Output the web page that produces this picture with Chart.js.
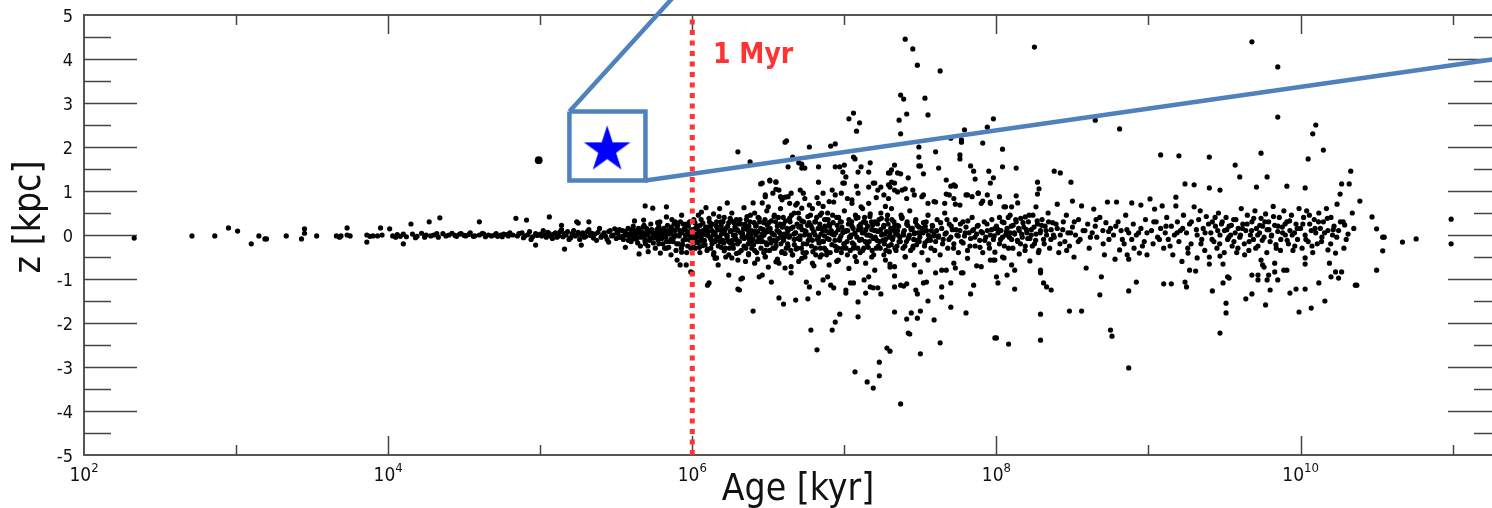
<!DOCTYPE html>
<html>
<head>
<meta charset="utf-8">
<script src="https://cdn.jsdelivr.net/npm/chart.js@4.4.0/dist/chart.umd.min.js"></script>
<style>
  html, body { margin: 0; padding: 0; background: #fff; overflow: hidden; width: 1492px; height: 508px; }
  #wrap { position: absolute; left: 0; top: 0; width: 1506px; height: 508px; }
</style>
</head>
<body>
<div id="wrap"><canvas id="chart"></canvas></div>
<script>
// Each entry is [log10(age / kyr), z in kpc].
const ages2to4 = [[2.33,-0.07],[2.71,-0.02],[2.86,-0.02],[2.95,0.16],[3.01,0.09],[3.1,-0.2],[3.15,-0.02],[3.19,-0.09],[3.2,-0.09],[3.33,-0.02],[3.43,-0.09],[3.45,0.14],[3.45,0.04],[3.53,-0.02],[3.66,-0.02],[3.68,-0.05],[3.69,-0.02],[3.73,0.16],[3.73,0.0],[3.75,-0.02],[3.86,0.0],[3.86,-0.16],[3.88,-0.03],[3.9,-0.02],[3.93,-0.02],[3.95,0.16],[3.96,0.0]];

const ages4to5 = [[4.01,0.14],[4.03,-0.02],[4.05,-0.05],[4.06,0.01],[4.08,-0.03],[4.1,0.02],[4.1,-0.2],[4.12,-0.04],[4.15,0.25],[4.16,0.02],[4.18,-0.06],[4.19,-0.03],[4.22,0.04],[4.24,-0.05],[4.25,0.0],[4.27,0.3],[4.28,-0.02],[4.3,0.0],[4.32,0.03],[4.33,-0.05],[4.34,0.39],[4.36,0.03],[4.38,-0.02],[4.4,0.0],[4.42,0.04],[4.44,-0.01],[4.45,-0.03],[4.47,0.02],[4.48,0.03],[4.5,-0.01],[4.51,-0.02],[4.53,0.01],[4.54,0.05],[4.56,-0.03],[4.57,-0.02],[4.6,0.3],[4.6,0.0],[4.62,0.04],[4.63,0.02],[4.64,-0.04],[4.66,0.0],[4.68,-0.02],[4.7,0.0],[4.71,0.03],[4.72,-0.03],[4.74,0.0],[4.75,-0.04],[4.76,0.02],[4.78,0.01],[4.79,-0.02],[4.8,0.05],[4.82,0.0],[4.84,0.38],[4.85,-0.02],[4.86,0.03],[4.88,0.05],[4.89,-0.06],[4.9,-0.02],[4.91,0.34],[4.92,0.01],[4.93,0.08],[4.94,-0.1],[4.95,-0.04],[4.97,-0.23],[4.97,0.03],[4.98,-0.01],[5.0,0.02]];

const ages5to6 = [[5.01,-0.02],[5.02,0.1],[5.03,0.0],[5.04,-0.05],[5.05,0.06],[5.06,0.03],[5.06,0.41],[5.07,-0.03],[5.08,-0.08],[5.09,0.02],[5.1,0.05],[5.11,-0.05],[5.12,-0.02],[5.13,0.07],[5.14,0.12],[5.14,0.22],[5.15,-0.04],[5.16,-0.32],[5.16,0.03],[5.17,0.0],[5.18,0.08],[5.19,-0.1],[5.2,-0.06],[5.21,0.03],[5.22,0.1],[5.23,-0.02],[5.24,0.3],[5.24,0.0],[5.25,0.27],[5.25,0.06],[5.26,-0.1],[5.27,-0.23],[5.27,0.01],[5.28,0.05],[5.29,-0.05],[5.3,-0.03],[5.31,0.08],[5.32,0.12],[5.32,0.3],[5.33,-0.01],[5.34,0.04],[5.35,-0.07],[5.36,0.02],[5.37,-0.12],[5.38,0.06],[5.39,0.15],[5.4,-0.05],[5.41,0.0],[5.42,0.05],[5.43,-0.03],[5.44,-0.1],[5.45,-0.16],[5.45,0.08],[5.46,0.1],[5.47,-0.02],[5.48,0.0],[5.49,0.14],[5.5,-0.08],[5.51,0.04],[5.52,0.12],[5.53,-0.05],[5.54,-0.03],[5.55,0.09],[5.56,0.06],[5.56,-0.28],[5.57,0.0],[5.58,-0.12],[5.59,0.03],[5.6,0.02],[5.61,-0.08],[5.62,0.32],[5.62,0.1],[5.63,-0.02],[5.64,0.05],[5.65,0.1],[5.65,-0.43],[5.66,-0.05],[5.67,0.07],[5.68,0.0],[5.68,0.34],[5.69,0.66],[5.69,-0.15],[5.7,0.15],[5.71,-0.38],[5.71,0.02],[5.72,-0.12],[5.73,0.08],[5.74,0.05],[5.74,0.61],[5.75,-0.06],[5.76,-0.02],[5.77,0.12],[5.78,0.2],[5.78,-0.2],[5.79,-0.41],[5.79,0.04],[5.8,-0.08],[5.81,0.08],[5.82,-0.03],[5.83,-0.15],[5.83,0.41],[5.83,0.64],[5.83,-0.3],[5.84,0.1],[5.85,0.02],[5.86,-0.45],[5.86,-0.1],[5.87,0.12],[5.88,-0.05],[5.88,0.25],[5.89,0.0],[5.9,0.18],[5.9,-0.57],[5.91,-0.2],[5.92,-0.68],[5.92,0.07],[5.93,0.05],[5.93,0.45],[5.93,-0.39],[5.94,-0.12],[5.95,-0.1],[5.95,0.15],[5.96,0.25],[5.96,-0.68],[5.97,-0.25],[5.97,0.08],[5.98,0.0],[5.99,-0.05],[5.99,-0.84],[5.99,0.3]];

const core5 = [[5.605,0.12],[5.618,-0.06],[5.627,0.02],[5.641,-0.18],[5.652,0.08],[5.664,-0.02],[5.676,0.18],[5.688,-0.1],[5.697,0.05],[5.708,-0.25],[5.716,0.1],[5.727,0.25],[5.739,-0.05],[5.748,0.0],[5.757,-0.3],[5.768,0.12],[5.776,-0.12],[5.787,0.3],[5.796,0.02],[5.806,-0.2],[5.814,0.15],[5.826,-0.05],[5.837,0.22],[5.845,-0.28],[5.856,0.05],[5.866,0.35],[5.874,-0.15],[5.884,0.1],[5.893,-0.35],[5.904,0.22],[5.914,-0.02],[5.922,0.3],[5.936,-0.22],[5.944,0.12],[5.955,0.0],[5.963,-0.4],[5.974,0.2],[5.986,-0.12],[5.994,0.1],
  [5.505,0.05],[5.522,-0.05],[5.538,0.1],[5.547,-0.1],[5.563,0.0],[5.578,0.15],[5.586,-0.05],[5.598,-0.15],[5.612,0.2],[5.633,-0.1],[5.646,0.15],[5.659,-0.25],[5.671,0.05],[5.683,0.22],[5.692,-0.2],[5.703,0.0],[5.721,-0.08],[5.733,0.12],[5.744,-0.18],[5.762,0.02],[5.772,0.28],[5.782,-0.05],[5.802,0.12],[5.818,-0.3],[5.832,0.05],[5.851,-0.15],[5.861,0.18],[5.878,-0.02],[5.889,0.3],[5.898,-0.2],[5.918,0.1],[5.928,-0.3],[5.941,0.25],[5.958,-0.1],[5.968,0.05],[5.982,0.3],[5.991,-0.3]];

const ages6to7 = [[6.0,-0.86],[6.0,0.12],[6.01,-0.1],[6.01,0.35],[6.02,0.02],[6.02,-0.3],[6.03,0.2],[6.03,-0.05],[6.04,0.45],[6.04,-0.18],[6.05,0.08],[6.05,-0.4],[6.06,0.52],[6.06,-0.02],[6.07,0.27],[6.07,-0.24],[6.08,0.05],[6.08,-0.12],[6.09,0.62],[6.09,0.15],[6.1,-1.14],[6.1,-0.32],[6.1,0.0],[6.11,-1.09],[6.11,0.38],[6.12,-0.08],[6.12,0.2],[6.13,-0.2],[6.13,0.1],[6.14,0.48],[6.14,-0.45],[6.15,0.02],[6.15,-0.15],[6.16,-0.52],[6.16,0.3],[6.17,-0.68],[6.17,0.12],[6.18,-0.05],[6.18,0.6],[6.19,-0.28],[6.19,0.22],[6.2,0.05],[6.2,-0.12],[6.21,0.4],[6.21,-0.36],[6.22,-0.5],[6.22,0.15],[6.23,0.73],[6.23,-0.02],[6.24,-0.91],[6.24,0.28],[6.25,-0.18],[6.25,0.08],[6.26,-0.52],[6.26,0.5],[6.27,0.0],[6.27,-0.3],[6.28,0.18],[6.28,-0.08],[6.29,0.35],[6.29,-0.42],[6.3,1.89],[6.3,-1.23],[6.3,0.1],[6.31,-1.25],[6.31,-0.15],[6.32,-1.0],[6.32,0.25],[6.33,-0.98],[6.33,0.05],[6.34,-0.25],[6.34,0.62],[6.35,0.15],[6.35,-0.6],[6.36,-0.05],[6.36,0.42],[6.37,-0.45],[6.37,0.02],[6.38,1.66],[6.38,0.3],[6.39,-0.2],[6.39,0.1],[6.4,0.73],[6.4,-1.73],[6.4,-0.1],[6.41,0.5],[6.41,-0.35],[6.42,0.0],[6.42,0.22],[6.43,-0.55],[6.43,0.08],[6.44,-0.95],[6.44,0.38],[6.45,-0.15],[6.45,0.15],[6.46,1.18],[6.46,0.73],[6.46,-0.91],[6.46,-0.03],[6.47,0.28],[6.47,-0.4],[6.48,0.91],[6.48,-0.5],[6.48,0.05],[6.49,0.55],[6.49,-0.22],
  [6.5,0.64],[6.5,-0.73],[6.5,0.12],[6.51,1.25],[6.51,-0.08],[6.52,-1.07],[6.52,0.32],[6.53,0.95],[6.53,-0.3],[6.54,0.0],[6.54,0.45],[6.55,1.2],[6.55,-0.15],[6.56,0.2],[6.56,-0.55],[6.57,1.02],[6.57,-0.64],[6.57,-1.43],[6.57,0.08],[6.58,0.6],[6.58,-0.05],[6.59,0.8],[6.59,-0.38],[6.6,-1.57],[6.6,0.25],[6.6,-0.12],[6.61,0.86],[6.61,-0.75],[6.61,2.11],[6.62,2.14],[6.62,0.03],[6.63,1.55],[6.63,-0.25],[6.64,0.38],[6.64,-0.02],[6.65,-0.86],[6.65,0.15],[6.66,1.77],[6.66,-0.45],[6.67,0.5],[6.67,-0.1],[6.68,-1.48],[6.68,0.05],[6.69,0.72],[6.69,-0.3],[6.7,1.64],[6.7,0.18],[6.7,-0.6],[6.71,-0.02],[6.72,1.52],[6.72,0.32],[6.72,1.61],[6.73,-0.2],[6.73,0.95],[6.74,1.52],[6.74,0.1],[6.75,-1.07],[6.75,-0.4],[6.76,-1.45],[6.76,0.42],[6.77,2.0],[6.77,-1.18],[6.77,0.0],[6.78,-2.16],[6.78,0.22],[6.79,-0.12],[6.79,0.6],[6.8,-0.7],[6.8,0.08],[6.81,0.3],[6.81,-0.3],[6.82,-2.61],[6.82,0.85],[6.83,1.55],[6.83,-1.32],[6.83,1.2],[6.83,-0.05],[6.84,0.45],[6.84,-0.5],[6.85,0.15],[6.85,-0.15],[6.86,-1.02],[6.86,0.65],[6.87,-0.02],[6.87,0.35],[6.88,-0.35],[6.88,0.1],[6.89,-0.95],[6.89,0.5],[6.9,-0.1],[6.9,0.25],[6.91,2.02],[6.91,-1.14],[6.92,-2.16],[6.92,0.02],[6.93,-1.2],[6.93,0.75],[6.94,2.07],[6.94,1.55],[6.94,-1.98],[6.94,-0.25],[6.95,0.4],[6.95,-0.6],[6.96,0.12],[6.97,1.55],[6.97,-1.8],[6.97,-0.08],[6.98,0.3],[6.98,-0.4],[6.99,1.43],[6.99,1.18],[6.99,0.05]];

const core6 = [[6.004,0.05],[6.013,-0.08],[6.021,0.15],[6.032,-0.15],[6.038,0.02],[6.052,0.22],[6.061,-0.1],[6.07,0.1],[6.084,-0.22],[6.093,0.0],[6.101,0.18],[6.116,-0.05],[6.122,-0.3],[6.131,0.25],[6.148,0.05],[6.152,-0.12],[6.167,0.12],[6.171,-0.25],[6.188,0.3],[6.192,0.02],[6.206,-0.18],[6.211,0.08],[6.229,-0.08],[6.233,0.2],[6.244,-0.3],[6.258,0.32],[6.262,-0.12],[6.279,0.12],[6.283,0.0],[6.298,-0.2],[6.303,0.25],[6.318,0.05],[6.322,-0.35],[6.337,0.15],[6.341,-0.08],[6.356,0.35],[6.368,-0.2],[6.372,0.2],[6.386,-0.02],[6.391,-0.3],[6.407,0.28],[6.412,0.08],[6.428,-0.15],[6.433,0.4],[6.449,-0.05],[6.452,-0.3],[6.468,0.12],[6.471,0.0],[6.487,-0.18],[6.493,0.22],[6.508,-0.35],[6.512,0.15],[6.527,0.02],[6.533,-0.12],[6.548,0.3],[6.551,-0.25],[6.566,0.4],[6.574,0.05],[6.588,-0.4],[6.592,0.18],[6.606,-0.05],[6.613,0.32],[6.627,-0.2],[6.631,0.1],[6.648,-0.35],[6.652,0.45],[6.668,0.02],[6.671,-0.22],[6.689,0.25],[6.694,-0.08],[6.703,0.38],[6.717,-0.3],[6.722,0.12],[6.738,0.0],[6.741,-0.5],[6.758,0.22],[6.763,-0.12],[6.777,0.45],[6.784,-0.25],[6.799,0.05],[6.806,0.3],[6.812,-0.45],[6.828,0.15],[6.833,-0.18],[6.847,0.02],[6.851,0.5],[6.869,-0.3],[6.872,0.2],[6.888,-0.08],[6.893,0.35],[6.907,-0.4],[6.914,0.1],[6.926,0.28],[6.938,-0.12],[6.943,0.05],[6.958,-0.3],[6.962,0.4],[6.977,-0.02],[6.984,0.18],[6.997,-0.2]];

const core6b = [[6.008,-0.2],[6.017,0.28],[6.026,-0.02],[6.042,0.1],[6.047,-0.28],[6.058,0.35],[6.066,0.05],[6.074,-0.15],[6.088,0.18],[6.097,-0.35],[6.106,0.08],[6.113,0.3],[6.127,-0.12],[6.136,0.0],[6.142,-0.4],[6.158,0.2],[6.163,-0.05],[6.176,0.42],[6.183,-0.15],[6.197,0.12],[6.202,0.3],[6.218,-0.3],[6.224,0.0],[6.238,-0.15],[6.249,0.38],[6.253,0.1],[6.268,-0.22],[6.274,0.28],[6.289,-0.1],[6.294,0.12],[6.308,-0.4],[6.314,0.35],[6.327,-0.05],[6.332,0.0],[6.347,0.25],[6.352,-0.3],[6.363,0.12],[6.377,-0.12],[6.382,0.45],[6.398,0.05],[6.403,-0.22],[6.417,0.2],[6.424,-0.4],[6.438,-0.08],[6.443,0.3],[6.458,0.02],[6.463,-0.15],[6.478,0.35],[6.482,-0.35],[6.497,0.08],[6.503,0.28],[6.518,-0.18],[6.523,0.05],[6.538,0.42],[6.543,-0.3],[6.557,0.1],[6.562,-0.08],[6.578,0.25],[6.583,-0.2],[6.598,0.4],[6.603,0.02],[6.618,-0.3],[6.622,0.15],[6.637,-0.05],[6.643,0.3],[6.658,-0.45],[6.663,0.18],[6.678,0.05],[6.683,-0.32],[6.698,0.5],[6.708,-0.1],[6.713,0.2],[6.728,-0.4],[6.733,0.3],[6.748,0.08],[6.753,-0.2],[6.768,0.28],[6.773,-0.05],[6.788,0.15],[6.793,-0.38],[6.808,0.0],[6.818,0.4],[6.823,-0.1],[6.838,0.25],[6.843,-0.3],[6.858,0.1],[6.863,-0.15],[6.878,0.35],[6.883,-0.45],[6.898,0.05],[6.903,0.2],[6.918,-0.22],[6.923,0.45],[6.933,0.0],[6.948,-0.35],[6.953,0.22],[6.968,-0.12],[6.973,0.3],[6.988,-0.3],[6.993,0.08]];

// looser halo around the band between 10^6 and 10^8 kyr
const halo6to8 = [[6.45,1.16],[6.51,1.23],[6.55,1.21],[6.48,0.87],[6.55,1.04],[6.58,0.87],[6.63,0.87],[6.65,0.95],[6.71,1.02],[6.74,0.83],[6.64,0.72],[6.68,0.68],[6.72,0.61],[6.77,0.68],[6.83,0.72],[6.86,0.95],[6.92,1.02],[6.94,0.91],[6.9,0.76],[6.98,0.95],[7.02,0.83],[7.05,0.8],[7.09,0.95],[7.11,0.64],[7.16,0.72],[7.26,0.91],[7.29,0.83],[7.33,1.02],[7.38,1.02],[7.41,0.83],[7.46,0.91],[7.51,0.87],[7.55,0.72],[7.59,0.76],[7.66,0.72],[7.69,0.91],[7.72,0.83],[7.8,0.91],[7.84,0.87],[7.88,0.95],[7.9,0.72],[7.96,0.72],[8.02,0.87],[8.05,0.64],
  [6.15,-0.53],[6.24,-0.45],[6.3,-0.57],[6.37,-0.42],[6.41,-0.64],[6.48,-0.49],[6.55,-0.61],[6.61,-0.42],[6.65,-0.72],[6.72,-0.53],[6.79,-0.64],[6.85,-0.45],[6.9,-0.68],[6.96,-0.57],[7.03,-0.76],[7.07,-0.49],[7.14,-0.64],[7.2,-0.8],[7.27,-0.57],[7.33,-0.72],[7.4,-0.49],[7.46,-0.68],[7.55,-0.57],[7.64,-0.8],[7.72,-0.64],[7.81,-0.53],[7.9,-0.72],[7.99,-0.57]];

const ages7to8 = [[7.0,1.18],[7.0,1.59],[7.0,-0.2],[7.0,0.55],[7.01,1.32],[7.01,-1.25],[7.01,-1.32],[7.01,0.1],[7.02,-0.45],[7.03,0.35],[7.03,2.64],[7.04,-1.09],[7.04,-0.05],[7.05,0.72],[7.05,0.2],[7.06,-1.09],[7.06,1.77],[7.06,2.77],[7.06,-0.3],[7.07,1.73],[7.07,-3.11],[7.07,0.02],[7.08,1.11],[7.08,2.36],[7.08,-0.6],[7.09,-1.52],[7.09,-1.86],[7.09,1.43],[7.09,0.4],[7.1,2.55],[7.1,-0.12],[7.11,1.55],[7.11,0.15],[7.12,-0.35],[7.12,0.6],[7.13,-1.02],[7.13,0.05],[7.14,-1.32],[7.14,0.28],[7.15,-3.34],[7.15,-0.2],[7.16,1.43],[7.16,-0.95],[7.16,1.09],[7.16,0.0],[7.17,1.64],[7.17,-1.18],[7.17,0.48],[7.18,-0.5],[7.18,0.12],[7.19,-3.48],[7.19,1.18],[7.19,-1.2],[7.19,-0.08],[7.2,1.18],[7.2,0.3],[7.21,-0.3],[7.21,0.85],[7.22,1.02],[7.22,-1.2],[7.22,0.08],[7.23,-3.2],[7.23,-2.89],[7.23,-0.15],[7.24,-1.34],[7.24,1.09],[7.24,0.5],[7.25,0.02],[7.26,-0.45],[7.26,0.22],[7.27,0.65],[7.27,-0.1],[7.28,-2.57],[7.28,0.35],[7.29,1.14],[7.29,1.41],[7.29,-0.25],[7.3,-2.64],[7.3,1.41],[7.3,-0.66],[7.3,-0.73],[7.3,1.09],[7.3,0.05],[7.31,1.48],[7.31,1.2],[7.31,0.6],[7.32,-0.05],[7.33,1.59],[7.33,1.18],[7.33,-0.93],[7.33,-1.18],[7.33,-1.75],[7.33,0.2],[7.34,-0.35],[7.35,0.98],[7.35,1.41],[7.35,0.1],[7.36,2.61],[7.36,-0.15],[7.37,3.18],[7.37,2.3],[7.37,-3.84],[7.37,1.39],[7.37,-1.14],[7.38,0.4],[7.39,3.09],[7.39,-1.16],[7.39,0.0],[7.4,4.45],[7.4,1.05],[7.4,-0.5],[7.41,2.75],[7.41,-1.11],[7.41,-1.91],[7.41,0.25],[7.42,1.3],[7.42,-2.23],[7.42,-0.08],[7.43,-2.25],[7.43,0.55],[7.44,-1.77],[7.44,0.12],[7.45,4.23],[7.45,1.02],[7.45,-0.3],[7.46,0.03],[7.47,-1.25],[7.47,0.35],[7.48,3.86],[7.48,-1.34],[7.48,-1.89],[7.48,-0.12],[7.49,2.0],[7.49,1.77],[7.49,1.57],[7.49,0.18],
  [7.5,-2.7],[7.5,-1.73],[7.5,-0.84],[7.5,1.57],[7.5,0.05],[7.51,-0.4],[7.52,1.39],[7.52,0.91],[7.52,-1.09],[7.52,0.28],[7.53,3.11],[7.53,-0.18],[7.54,-1.07],[7.54,0.1],[7.55,2.73],[7.55,-1.5],[7.55,0.45],[7.56,-0.05],[7.57,-0.3],[7.58,0.2],[7.59,-1.93],[7.59,0.02],[7.6,1.89],[7.6,0.75],[7.6,-0.86],[7.6,-0.15],[7.61,0.35],[7.62,1.52],[7.62,-0.02],[7.63,3.73],[7.63,-2.45],[7.63,-0.45],[7.64,-1.18],[7.64,-1.41],[7.64,0.15],[7.65,-0.1],[7.66,0.5],[7.67,1.25],[7.67,0.93],[7.67,-0.8],[7.67,0.05],[7.68,-0.3],[7.69,0.25],[7.7,2.2],[7.7,-1.64],[7.7,-1.09],[7.7,1.11],[7.7,-0.05],[7.71,0.12],[7.72,1.14],[7.72,-0.2],[7.73,1.11],[7.73,0.7],[7.73,-0.75],[7.73,0.35],[7.74,0.0],[7.75,-0.4],[7.76,1.82],[7.76,1.73],[7.76,0.68],[7.76,0.1],[7.77,2.16],[7.77,2.11],[7.77,-0.86],[7.77,-0.15],[7.78,-0.86],[7.78,0.3],[7.79,2.39],[7.79,-0.02],[7.8,-1.77],[7.8,0.18],[7.81,0.91],[7.81,-0.35],[7.82,0.05],[7.83,1.57],[7.83,-1.34],[7.83,-0.08],[7.84,0.4],[7.85,1.45],[7.85,-1.14],[7.85,0.12],[7.86,1.27],[7.86,-0.25],[7.87,-0.7],[7.87,0.02],[7.88,0.95],[7.88,0.22],[7.89,-0.12],[7.9,0.08],[7.91,2.09],[7.91,0.77],[7.91,-0.4],[7.92,0.3],[7.93,-0.05],[7.94,2.45],[7.94,0.91],[7.94,0.1],[7.95,1.45],[7.95,-0.2],[7.96,-0.57],[7.96,0.75],[7.96,1.18],[7.96,0.0],[7.97,0.35],[7.98,2.64],[7.98,1.3],[7.98,-0.57],[7.98,-0.1],[7.99,-0.39],[7.99,-2.34],[7.99,0.15]];

const core7 = [[7.006,0.08],[7.018,-0.15],[7.027,0.25],[7.039,-0.35],[7.043,0.0],[7.058,0.15],[7.064,-0.22],[7.078,0.38],[7.083,-0.05],[7.097,0.2],[7.104,-0.4],[7.118,0.05],[7.126,0.3],[7.137,-0.15],[7.142,0.12],[7.157,-0.28],[7.168,0.42],[7.174,-0.02],[7.186,0.22],[7.193,-0.45],[7.207,0.1],[7.214,-0.12],[7.228,0.35],[7.236,-0.3],[7.245,0.0],[7.258,0.18],[7.263,-0.2],[7.277,0.08],[7.284,0.45],[7.296,-0.38],[7.305,0.15],[7.317,-0.1],[7.326,0.3],[7.338,0.02],[7.346,-0.25],[7.357,0.2],[7.365,-0.05],[7.378,0.38],[7.386,-0.3],[7.394,0.1],[7.408,-0.15],[7.416,0.22],[7.428,0.0],[7.436,-0.35],[7.447,0.15],[7.456,-0.1],[7.468,0.3],[7.475,-0.22],[7.487,0.05],[7.496,-0.05],[7.512,0.15],[7.527,-0.25],[7.538,0.3],[7.553,0.0],[7.566,-0.12],[7.578,0.22],[7.594,-0.35],[7.607,0.1],[7.618,-0.05],[7.633,0.28],[7.646,-0.2],[7.662,0.02],[7.675,0.35],[7.688,-0.1],[7.703,0.2],[7.718,-0.3],[7.734,0.12],[7.749,-0.02],[7.763,0.25],[7.781,-0.18],[7.795,0.05],[7.812,0.32],[7.826,-0.25],[7.843,0.1],[7.858,-0.05],[7.874,0.2],[7.892,-0.28],[7.908,0.05],[7.923,-0.12],[7.938,0.25],[7.954,-0.3],[7.968,0.12],[7.985,-0.02],
  [7.011,-0.3],[7.022,0.1],[7.033,-0.05],[7.048,0.3],[7.053,-0.18],[7.069,0.05],[7.073,0.45],[7.088,-0.3],[7.093,0.12],[7.108,0.25],[7.113,-0.1],[7.128,-0.3],[7.133,0.4],[7.148,0.0],[7.153,0.2],[7.163,-0.15],[7.178,0.3],[7.183,-0.35],[7.198,0.1],[7.203,-0.05],[7.218,0.25],[7.223,-0.25],[7.238,0.12],[7.243,0.38],[7.253,-0.12],[7.268,0.02],[7.273,-0.35],[7.288,0.25],[7.293,-0.05],[7.308,-0.22],[7.313,0.35],[7.328,0.1],[7.333,-0.3],[7.348,0.22],[7.353,0.0],[7.368,-0.15],[7.373,0.45],[7.388,0.05],[7.398,-0.25],[7.413,0.3],[7.423,-0.05],[7.438,0.15],[7.452,-0.25],[7.463,0.05],[7.478,0.22],[7.492,-0.15],[7.518,0.05],[7.532,0.2],[7.548,-0.12],[7.572,0.1],[7.588,-0.02]];

const ages8to9 = [[8.0,-0.95],[8.0,0.2],[8.0,-2.34],[8.01,-1.09],[8.01,0.05],[8.02,-0.2],[8.02,0.4],[8.03,0.1],[8.04,1.95],[8.04,1.55],[8.04,-0.5],[8.04,-0.05],[8.05,0.28],[8.05,-0.52],[8.06,0.64],[8.06,0.0],[8.07,-0.91],[8.07,0.15],[8.08,-2.48],[8.08,-0.3],[8.09,0.45],[8.09,0.05],[8.1,0.64],[8.1,-0.68],[8.1,-0.1],[8.11,0.22],[8.12,-0.8],[8.12,-1.23],[8.12,0.02],[8.13,0.89],[8.13,1.52],[8.13,0.3],[8.14,0.73],[8.14,-0.15],[8.15,-0.43],[8.15,0.1],[8.16,0.38],[8.17,-0.05],[8.18,0.18],[8.19,0.41],[8.19,-0.25],[8.2,0.05],[8.21,0.3],[8.22,-0.59],[8.22,-0.08],[8.23,0.12],[8.24,0.45],[8.25,4.27],[8.25,-0.2],[8.26,0.64],[8.26,0.02],[8.27,1.2],[8.27,0.93],[8.27,0.25],[8.28,1.05],[8.28,-0.35],[8.29,-0.8],[8.29,-0.86],[8.29,-1.8],[8.29,-2.39],[8.29,0.1],[8.3,0.35],[8.31,-1.09],[8.31,-0.1],[8.32,0.2],[8.33,-1.18],[8.33,0.0],[8.34,0.5],[8.35,-0.3],[8.36,-1.25],[8.36,0.12],[8.37,0.28],[8.38,1.45],[8.38,-0.05],[8.4,0.7],[8.4,0.15],[8.41,-0.4],[8.42,1.41],[8.42,0.0],[8.44,0.3],[8.45,-0.15],[8.46,0.45],[8.47,0.05],[8.48,-1.73],[8.48,-0.25],[8.49,1.2],[8.5,0.77],[8.5,0.18],[8.51,-0.5],[8.52,0.0],[8.54,0.35],[8.55,-0.1],[8.56,-1.73],[8.56,0.66],[8.57,0.1],[8.59,-0.75],[8.6,0.25],[8.61,-0.3],[8.63,0.05],[8.64,0.59],[8.65,2.61],[8.65,0.2],[8.66,-0.05],[8.68,-1.36],[8.68,0.4],[8.69,-0.95],[8.7,0.1],[8.71,-0.45],[8.72,0.28],[8.73,0.75],[8.74,-0.1],[8.75,-2.16],[8.75,0.15],[8.76,-2.3],[8.77,0.0],[8.78,-0.55],[8.79,0.75],[8.8,0.3],[8.81,2.41],[8.81,-0.34],[8.82,0.1],[8.84,-0.2],[8.85,0.45],[8.86,-0.45],[8.87,-0.55],[8.87,-1.27],[8.87,-3.02],[8.87,0.05],[8.89,0.73],[8.89,-0.1],[8.9,0.25],[8.92,-1.07],[8.92,0.0],[8.94,-0.41],[8.95,0.68],[8.95,0.15],[8.96,-0.25],[8.98,0.35],[8.99,-0.45],[8.99,0.05]];

const core8 = [[8.012,0.12],[8.027,-0.1],[8.038,0.3],[8.052,-0.25],[8.066,0.08],[8.078,0.4],[8.085,-0.05],[8.097,0.2],[8.108,-0.3],[8.118,0.05],[8.127,0.35],[8.138,-0.12],[8.146,0.15],[8.158,-0.2],[8.166,0.02],[8.175,0.28],[8.188,-0.35],[8.197,0.12],[8.206,-0.08],[8.215,0.45],[8.228,0.0],[8.236,-0.25],[8.247,0.18],[8.258,-0.12],[8.268,0.32],[8.276,-0.4],[8.288,0.05],[8.297,0.22],[8.314,-0.2],[8.327,0.1],[8.343,0.3],[8.358,-0.1],[8.375,0.0],[8.392,0.25],[8.418,-0.2],[8.436,0.12],[8.462,-0.35],[8.488,0.05],[8.512,0.3],[8.538,-0.15],[8.582,0.1],[8.618,-0.05],[8.655,0.35],[8.702,-0.2],[8.738,0.08],[8.785,0.2],[8.828,-0.1],[8.858,0.12],[8.905,-0.3],[8.935,0.05],[8.972,-0.15]];

const ages9to10 = [[9.01,0.82],[9.02,0.1],[9.03,-0.2],[9.04,0.59],[9.05,0.3],[9.06,-0.05],[9.08,1.82],[9.08,0.15],[9.09,0.66],[9.1,-1.11],[9.1,-0.3],[9.11,0.05],[9.12,0.4],[9.13,-0.1],[9.15,-1.11],[9.15,0.2],[9.16,-0.45],[9.17,0.0],[9.18,0.86],[9.18,0.66],[9.19,0.3],[9.2,1.8],[9.2,-0.15],[9.21,0.1],[9.22,-0.6],[9.23,0.45],[9.24,1.16],[9.24,-1.07],[9.25,-1.18],[9.25,0.05],[9.26,-0.41],[9.27,-0.8],[9.27,0.25],[9.28,-0.2],[9.3,1.14],[9.3,0.64],[9.31,-0.82],[9.32,-0.52],[9.32,0.0],[9.33,0.35],[9.34,0.55],[9.35,-0.1],[9.36,0.15],[9.37,-0.35],[9.38,0.42],[9.4,1.77],[9.4,1.07],[9.4,-0.5],[9.4,-0.66],[9.41,0.05],[9.42,-1.27],[9.42,0.3],[9.43,-0.15],[9.44,0.2],[9.45,-0.3],[9.46,0.5],[9.47,1.02],[9.47,-0.48],[9.47,-2.23],[9.47,0.0],[9.48,0.25],[9.49,-0.66],[9.49,-1.09],[9.5,0.1],[9.51,-1.55],[9.51,-1.77],[9.51,0.4],[9.52,-0.95],[9.52,-0.1],[9.53,-0.98],[9.53,0.2],[9.54,0.0],[9.55,-0.25],[9.56,0.35],[9.57,1.59],[9.57,0.05],[9.58,-0.4],[9.59,0.15],[9.6,1.32],[9.6,-0.05],[9.61,0.6],[9.62,0.25],[9.63,-0.2],[9.64,-1.45],[9.64,0.1],[9.65,0.45],[9.66,-0.35],[9.67,0.0],[9.68,4.39],[9.68,-1.34],[9.68,-0.91],[9.68,0.3],[9.69,-0.1],[9.7,0.55],[9.71,1.09],[9.71,0.15],[9.72,-0.91],[9.72,-1.02],[9.72,-0.25],[9.73,0.05],[9.74,1.86],[9.74,-0.57],[9.74,0.38],[9.75,-0.68],[9.75,0.2],[9.76,-0.73],[9.76,-0.05],[9.77,-1.59],[9.77,0.48],[9.78,1.32],[9.78,-1.02],[9.78,0.12],[9.79,-0.91],[9.79,0.3],[9.8,-1.25],[9.8,-0.15],[9.81,0.0],[9.82,0.65],[9.83,-0.64],[9.83,-0.84],[9.83,0.22],[9.84,-0.3],[9.85,3.82],[9.85,2.68],[9.85,-1.02],[9.85,0.08],[9.86,0.4],[9.87,-0.1],[9.88,0.18],[9.89,-0.8],[9.89,0.55],[9.9,0.0],[9.91,1.11],[9.91,-0.8],[9.91,0.3],[9.92,-0.2],[9.93,-1.32],[9.93,0.1],[9.94,0.45],[9.95,-0.35],[9.96,0.05],[9.97,-1.23],[9.97,0.25],[9.98,-0.1],[9.99,-1.75],[9.99,0.6]];

const core9 = [[9.035,0.3],[9.072,-0.1],[9.115,0.2],[9.142,-0.25],[9.188,0.05],[9.225,0.15],[9.258,-0.3],[9.282,0.3],[9.315,0.12],[9.345,-0.2],[9.372,0.05],[9.395,0.25],[9.418,-0.1],[9.438,0.4],[9.455,0.1],[9.468,-0.2],[9.485,0.3],[9.498,-0.4],[9.515,0.12],[9.528,-0.05],[9.545,0.22],[9.562,-0.15],[9.575,0.35],[9.588,-0.3],[9.605,0.0],[9.618,0.15],[9.632,-0.45],[9.648,0.25],[9.662,-0.15],[9.678,0.1],[9.692,0.38],[9.705,-0.3],[9.718,0.0],[9.732,0.22],[9.748,-0.12],[9.765,0.3],[9.778,-0.4],[9.792,0.12],[9.808,-0.02],[9.822,0.42],[9.838,-0.22],[9.852,0.2],[9.868,-0.35],[9.882,0.05],[9.898,0.25],[9.912,-0.12],[9.928,0.32],[9.945,0.0],[9.962,-0.25],[9.978,0.15],[10.015,0.25],[10.035,-0.1],[10.058,0.45],[10.075,-0.25],[10.095,0.15],[10.118,0.3],[10.138,-0.15],[10.158,0.05],[10.176,0.38],[10.198,-0.2],[10.215,0.12],[10.238,-0.05],[10.262,0.3],[10.285,-0.3],[10.312,0.02],[10.35,0.15]];

const ages10up = [[10.0,0.15],[10.01,-0.3],[10.02,0.4],[10.03,1.07],[10.03,-0.52],[10.03,-0.66],[10.03,-1.23],[10.03,0.0],[10.04,0.55],[10.05,1.73],[10.05,-0.15],[10.06,0.25],[10.07,-1.66],[10.07,0.1],[10.08,2.3],[10.08,-0.4],[10.09,0.35],[10.1,2.5],[10.1,0.05],[10.11,-0.2],[10.12,-1.09],[10.12,0.5],[10.13,0.15],[10.14,-0.05],[10.15,1.93],[10.15,0.3],[10.16,-1.5],[10.17,0.6],[10.18,-0.34],[10.18,0.1],[10.19,-0.64],[10.2,-0.95],[10.2,0.4],[10.21,0.0],[10.22,0.2],[10.23,-0.41],[10.23,-0.84],[10.24,0.7],[10.25,-0.98],[10.25,0.1],[10.26,0.93],[10.27,1.16],[10.27,-0.84],[10.28,0.3],[10.29,0.23],[10.3,-0.1],[10.32,1.16],[10.33,1.45],[10.34,0.5],[10.36,-1.14],[10.37,-1.14],[10.39,0.77],[10.47,0.41],[10.5,0.14],[10.5,-0.8],[10.54,-0.05],[10.54,-0.36],[10.55,-0.05],[10.67,-0.16],[10.76,-0.09],[10.99,0.36],[10.99,-0.2]];

// highlighted objects
const bigDot = [[4.99, 1.70]];
const starObj = [[5.44, 1.97]];

// callout (zoom box) corners and leader lines, same units
const boxCorners = [[5.192, 2.807], [5.692, 2.807], [5.692, 1.239], [5.192, 1.239], [5.192, 2.807]];
const leaderUp = [[5.192, 2.807], [5.888, 5.455]];
const leaderRight = [[5.692, 1.239], [11.318, 4.016]];

const myrLine = [[6, -5], [6, 5]];

const yTicks = [5, 4, 3, 2, 1, 0, -1, -2, -3, -4, -5];
const xDecades = [2, 4, 6, 8, 10];

const toPts = arr => arr.map(p => ({ x: Math.pow(10, p[0]), y: p[1] }));

const allStars = [].concat(ages2to4, ages4to5, ages5to6, core5, ages6to7, core6, core6b,
  halo6to8, ages7to8, core7, ages8to9, core8, ages9to10, core9, ages10up);

// blue filled star used as point style
function makeStar() {
  const c = document.createElement('canvas');
  c.width = 52; c.height = 52;
  const g = c.getContext('2d');
  const R = 24.5, r = R * 0.382;
  g.beginPath();
  for (let i = 0; i < 10; i++) {
    const a = -Math.PI / 2 + i * Math.PI / 5;
    const rad = i % 2 ? r : R;
    g.lineTo(26 + rad * Math.cos(a), 27.5 + rad * Math.sin(a));
  }
  g.closePath();
  g.fillStyle = '#0000ff';
  g.fill();
  return c;
}

function txt(ctx, s, x, y, font, color, align, rot) {
  ctx.save();
  ctx.translate(x, y);
  if (rot) ctx.rotate(rot);
  ctx.scale(0.9, 1);
  ctx.font = font;
  ctx.fillStyle = color;
  ctx.textAlign = align;
  ctx.textBaseline = 'alphabetic';
  ctx.fillText(s, 0, 0);
  ctx.restore();
}

const framePlugin = {
  id: 'frame',
  beforeDatasetsDraw(chart) {
    const { ctx, chartArea: a, scales } = chart;
    const xs = scales.x, ys = scales.y;
    ctx.save();
    ctx.strokeStyle = '#555';
    ctx.lineWidth = 2;
    ctx.beginPath();
    ctx.moveTo(a.left, a.top); ctx.lineTo(a.right, a.top);
    ctx.stroke();

    ctx.strokeStyle = '#444';
    ctx.lineWidth = 1.5;
    ctx.beginPath();
    for (let v = -4.5; v <= 4.5; v += 0.5) {
      const y = Math.round(ys.getPixelForValue(v)) + 0.5;
      const len = Number.isInteger(v) ? 53 : 27;
      ctx.moveTo(a.left, y); ctx.lineTo(a.left + len, y);
      ctx.moveTo(a.right, y); ctx.lineTo(a.right - len, y);
    }
    for (let d = 3; d <= 11; d++) {
      const x = Math.round(xs.getPixelForValue(Math.pow(10, d))) + 0.5;
      const len = d % 2 === 0 ? 19 : 10;
      ctx.moveTo(x, a.top); ctx.lineTo(x, a.top + len);
      ctx.moveTo(x, a.bottom); ctx.lineTo(x, a.bottom - len);
    }
    ctx.stroke();
    ctx.restore();
  },
  afterDraw(chart) {
    const { ctx, scales } = chart;
    const xs = scales.x, ys = scales.y;
    const font = 'DejaVu Sans';

    yTicks.forEach(v => {
      txt(ctx, String(v), 73, ys.getPixelForValue(v) + 7, '18px ' + font, '#111', 'right');
    });

    xDecades.forEach(d => {
      const x = xs.getPixelForValue(Math.pow(10, d));
      ctx.save();
      ctx.font = '19px ' + font;
      const wb = ctx.measureText('10').width * 0.9;
      ctx.font = '13px ' + font;
      const we = ctx.measureText(String(d)).width * 0.9;
      ctx.restore();
      const x0 = x - (wb + we) / 2;
      txt(ctx, '10', x0, 481, '19px ' + font, '#111', 'left');
      txt(ctx, String(d), x0 + wb, 472, '13px ' + font, '#111', 'left');
    });

    txt(ctx, 'Age [kyr]', 798, 500, '37px ' + font, '#111', 'center');
    txt(ctx, 'z [kpc]', 40, 217, '37px ' + font, '#111', 'center', -Math.PI / 2);
    txt(ctx, '1 Myr', 713, 63, 'bold 28px ' + font, '#ff3333', 'left');
  }
};

const blue = '#4f81bd';

new Chart(document.getElementById('chart'), {
  type: 'scatter',
  data: {
    datasets: [
      { data: toPts(myrLine), showLine: true, borderColor: '#ff3333', borderWidth: 5,
        borderDash: [5, 5.5], pointRadius: 0, order: 1 },
      { data: toPts(starObj), pointStyle: makeStar(), order: 2 },
      { data: toPts(boxCorners), showLine: true, borderColor: blue, borderWidth: 4.5,
        pointRadius: 0, order: 3, clip: false },
      { data: toPts(leaderUp), showLine: true, borderColor: blue, borderWidth: 4.5,
        pointRadius: 0, order: 3, clip: false },
      { data: toPts(leaderRight), showLine: true, borderColor: blue, borderWidth: 4.5,
        pointRadius: 0, order: 3, clip: false },
      { data: toPts(bigDot), pointRadius: 3.9, backgroundColor: '#000', borderWidth: 0, order: 9 },
      { data: toPts(allStars), pointRadius: 2.6, backgroundColor: '#000', borderWidth: 0, order: 10 }
    ]
  },
  options: {
    responsive: true,
    maintainAspectRatio: false,
    animation: false,
    devicePixelRatio: 1,
    layout: { padding: { top: 15, right: 2, left: 0, bottom: 0 } },
    plugins: { legend: { display: false }, tooltip: { enabled: false } },
    scales: {
      x: {
        type: 'logarithmic',
        min: 100,
        max: Math.pow(10, 11.318),
        ticks: { display: false },
        grid: { display: false },
        border: { display: true, color: '#555', width: 2 },
        afterFit: s => { s.height = 53; }
      },
      y: {
        min: -5,
        max: 5,
        ticks: { display: false },
        grid: { display: false },
        border: { display: true, color: '#555', width: 2 },
        afterFit: s => { s.width = 84; }
      }
    }
  },
  plugins: [framePlugin]
});
</script>
</body>
</html>
